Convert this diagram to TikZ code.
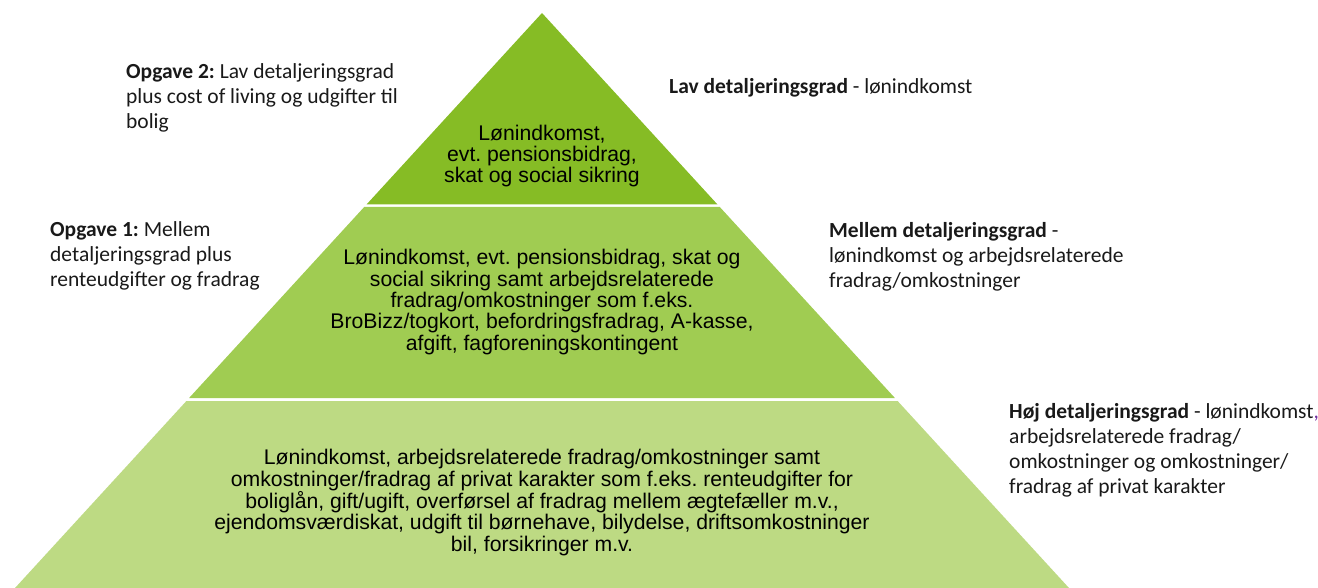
\documentclass[tikz,border=0pt]{standalone}
\usepackage{fontspec}
\setmainfont{Liberation Sans}
\newfontfamily\calfont{Carlito}
\frenchspacing
\definecolor{tierA}{RGB}{134,188,37}
\definecolor{tierB}{RGB}{160,204,82}
\definecolor{tierC}{RGB}{189,218,131}
\definecolor{commapurple}{RGB}{112,48,160}
\tikzset{
  pyrtext/.style={align=center, inner sep=0pt, font=\frenchspacing\fontsize{21.2}{21.4}\selectfont, text=black},
  sidetext/.style={align=left, anchor=west, inner sep=0pt, font=\frenchspacing\calfont\fontsize{21.5}{25}\selectfont, text=black!90}
}
\begin{document}
\begin{tikzpicture}[x=1pt,y=-1pt]
\useasboundingbox (0,0) rectangle (1318,588);
% tiers
\fill[tierA] (542,13) -- (717.5,204.5) -- (366.5,204.5) -- cycle;
\fill[tierB] (364.2,207) -- (719.8,207) -- (894.9,398) -- (189.1,398) -- cycle;
\fill[tierC] (186.4,401) -- (897.6,401) -- (1069,588) -- (15,588) -- cycle;
% pyramid texts
\node[pyrtext] (t1) at (542,156) {Lønindkomst,\\evt. pensionsbidrag,\\skat og social sikring};
\node[pyrtext] (t2) at (542,302) {Lønindkomst, evt. pensionsbidrag, skat og\\social sikring samt arbejdsrelaterede\\fradrag/omkostninger som f.eks.\\BroBizz/togkort, befordringsfradrag, A-kasse,\\afgift, fagforeningskontingent};
\node[pyrtext] (t3) at (542,502.5) {Lønindkomst, arbejdsrelaterede fradrag/omkostninger samt\\omkostninger/fradrag af privat karakter som f.eks. renteudgifter for\\boliglån, gift/ugift, overførsel af fradrag mellem ægtefæller m.v.,\\ejendomsværdiskat, udgift til børnehave, bilydelse, driftsomkostninger\\bil, forsikringer m.v.};
% side texts
\node[sidetext] (o2) at (126,97.5) {\textbf{Opgave 2:} Lav detaljeringsgrad\\plus cost of living og udgifter til\\bolig};
\node[sidetext] (o1) at (50,256) {\textbf{Opgave 1:} Mellem\\detaljeringsgrad plus\\renteudgifter og fradrag};
\node[sidetext] (lav) at (669,88) {\textbf{Lav detaljeringsgrad} - lønindkomst};
\node[sidetext] (mel) at (829,257) {\textbf{Mellem detaljeringsgrad} -\\lønindkomst og arbejdsrelaterede\\fradrag/omkostninger};
\node[sidetext] (hoj) at (1009,450) {\textbf{Høj detaljeringsgrad} - lønindkomst{\color{commapurple},}\\arbejdsrelaterede fradrag/\\omkostninger og omkostninger/\\fradrag af privat karakter};
\end{tikzpicture}
\end{document}
